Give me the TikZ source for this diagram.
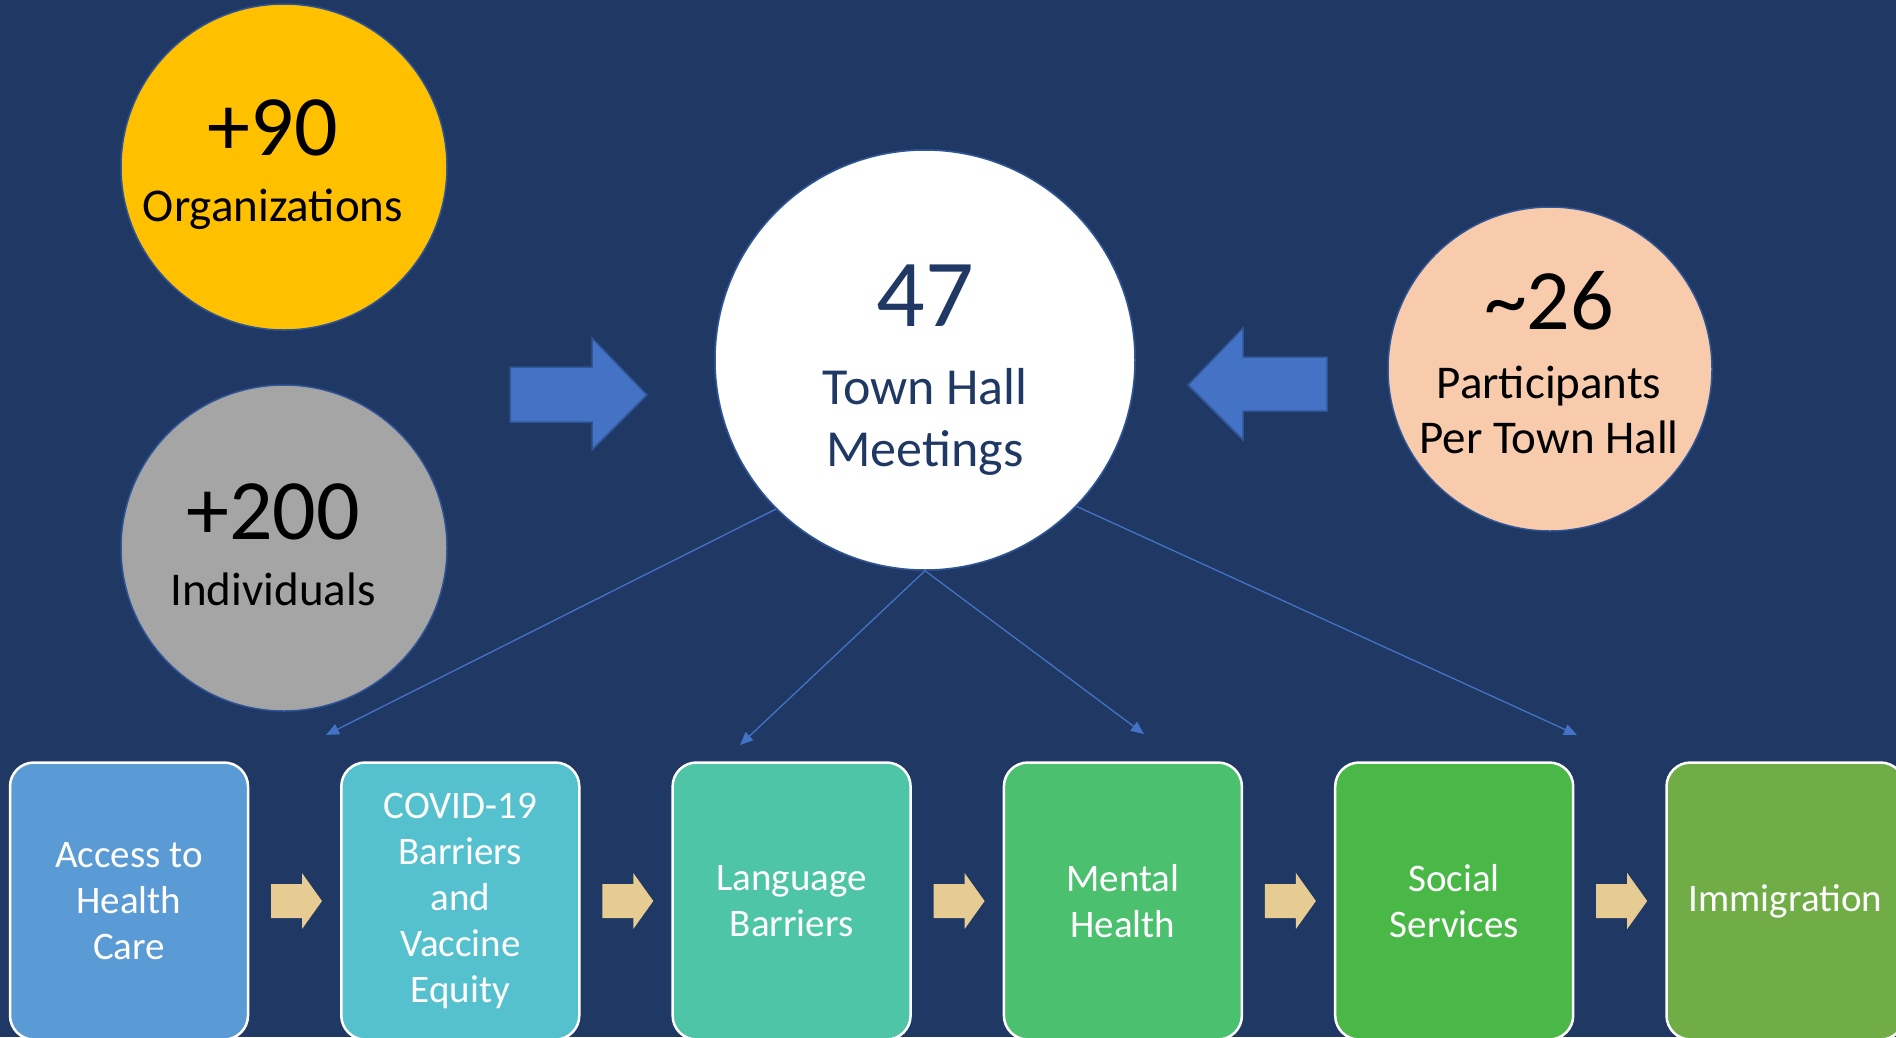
\documentclass[tikz,border=0pt]{standalone}
\usepackage{fontspec}
\setmainfont{Carlito}
\usetikzlibrary{arrows.meta}
\definecolor{bg}{HTML}{203864}
\definecolor{outl}{HTML}{2F5597}
\definecolor{ablue}{HTML}{4472C4}
\definecolor{cyel}{HTML}{FFC000}
\definecolor{cgray}{HTML}{A5A5A5}
\definecolor{cpeach}{HTML}{F8CBAD}
\definecolor{navytxt}{HTML}{203864}
\definecolor{tan}{HTML}{E6CC92}
\definecolor{bxa}{HTML}{5B9BD5}
\definecolor{bxb}{HTML}{55C1CF}
\definecolor{bxc}{HTML}{4FC5A8}
\definecolor{bxd}{HTML}{4BC170}
\definecolor{bxe}{HTML}{4AB847}
\definecolor{bxf}{HTML}{70AD47}
\tikzset{
  bubble/.style={circle, draw=outl, line width=1.5pt, inner sep=0pt},
  bignum/.style={anchor=base, inner sep=0pt, font=\fontsize{86}{86}\selectfont},
  midtxt/.style={anchor=base, inner sep=0pt, font=\fontsize{47}{56}\selectfont},
  topic/.style={rectangle, rounded corners=24pt, draw=white, line width=2.5pt,
    minimum width=238pt, minimum height=277pt, inner sep=0pt, align=center,
    text=white, font=\fontsize{39}{46}\selectfont},
  thin/.style={draw=ablue, line width=1.3pt, -{Triangle[length=13pt,width=11pt]}},
  bigarrow/.style={fill=ablue, draw=outl, line width=1.5pt, line join=miter},
  smallarrow/.style={fill=tan}
}
\begin{document}
\begin{tikzpicture}[x=1pt,y=-1pt]
\useasboundingbox (0,0) rectangle (1896,1037);
\fill[bg] (0,0) rectangle (1896,1037);

% free ends of the connectors
\coordinate (e1) at (326,735);
\coordinate (e2) at (740,745);
\coordinate (e3) at (1144,734);
\coordinate (e4) at (1577,735);

% central circle
\node[bubble, fill=white, minimum size=420pt] (w) at (925,360) {};
\draw[thin] (w.-135.4) -- (e1);
\draw[thin] (w.south) -- (e2);
\draw[thin] (w.south) -- (e3);
\draw[thin] (w.-44.6) -- (e4);
\node[bubble, fill=white, minimum size=420pt] (w2) at (925,360) {};
\node[bignum, font=\fontsize{96}{96}\selectfont, text=navytxt] (t47) at (925,326) {47};
\node[midtxt, font=\fontsize{52}{60}\selectfont, text=navytxt] (tth) at (925,404) {Town Hall};
\node[midtxt, font=\fontsize{52}{60}\selectfont, text=navytxt] (tme) at (925,466) {Meetings};

% side circles
\node[bubble, fill=cyel, minimum size=326pt] (org) at (284,167) {};
\node[bignum] (t90) at (273,155) {+90};
\node[midtxt] (torg) at (273,221) {Organizations};

\node[bubble, fill=cgray, minimum size=326pt] (ind) at (284,548) {};
\node[bignum] (t200) at (273,539) {+200};
\node[midtxt] (tind) at (273,605) {Individuals};

\node[bubble, fill=cpeach, minimum size=324pt] (par) at (1550,369) {};
\node[bignum] (t26) at (1549,329) {\char"007E 26};
\node[midtxt] (tpar) at (1549,398) {Participants};
\node[midtxt] (tper) at (1549,453) {Per Town Hall};

% big arrows
\draw[bigarrow] (510,367) -- (592,367) -- (592,338) -- (647,395) -- (592,450) -- (592,422) -- (510,422) -- cycle;
\draw[bigarrow] (1327,357) -- (1243,357) -- (1243,328) -- (1188,385) -- (1243,440) -- (1243,411) -- (1327,411) -- cycle;

% topic boxes
\node[topic, fill=bxa] (b1) at (129,901) {Access to\\Health\\Care};
\node[topic, fill=bxb] (b2) at (460.3,901) {COVID-19\\Barriers\\and\\Vaccine\\Equity};
\node[topic, fill=bxc] (b3) at (791.6,901) {Language\\Barriers};
\node[topic, fill=bxd] (b4) at (1122.9,901) {Mental\\Health};
\node[topic, fill=bxe] (b5) at (1454.2,901) {Social\\Services};
\node[topic, fill=bxf] (b6) at (1785.5,901) {Immigration};

% small arrows between boxes
\foreach \k in {0,...,4} {
  \fill[smallarrow, xshift=331.3*\k] (271,884) -- (302,884) -- (302,873) -- (322,901) -- (302,929) -- (302,918) -- (271,918) -- cycle;
}
\end{tikzpicture}
\end{document}
